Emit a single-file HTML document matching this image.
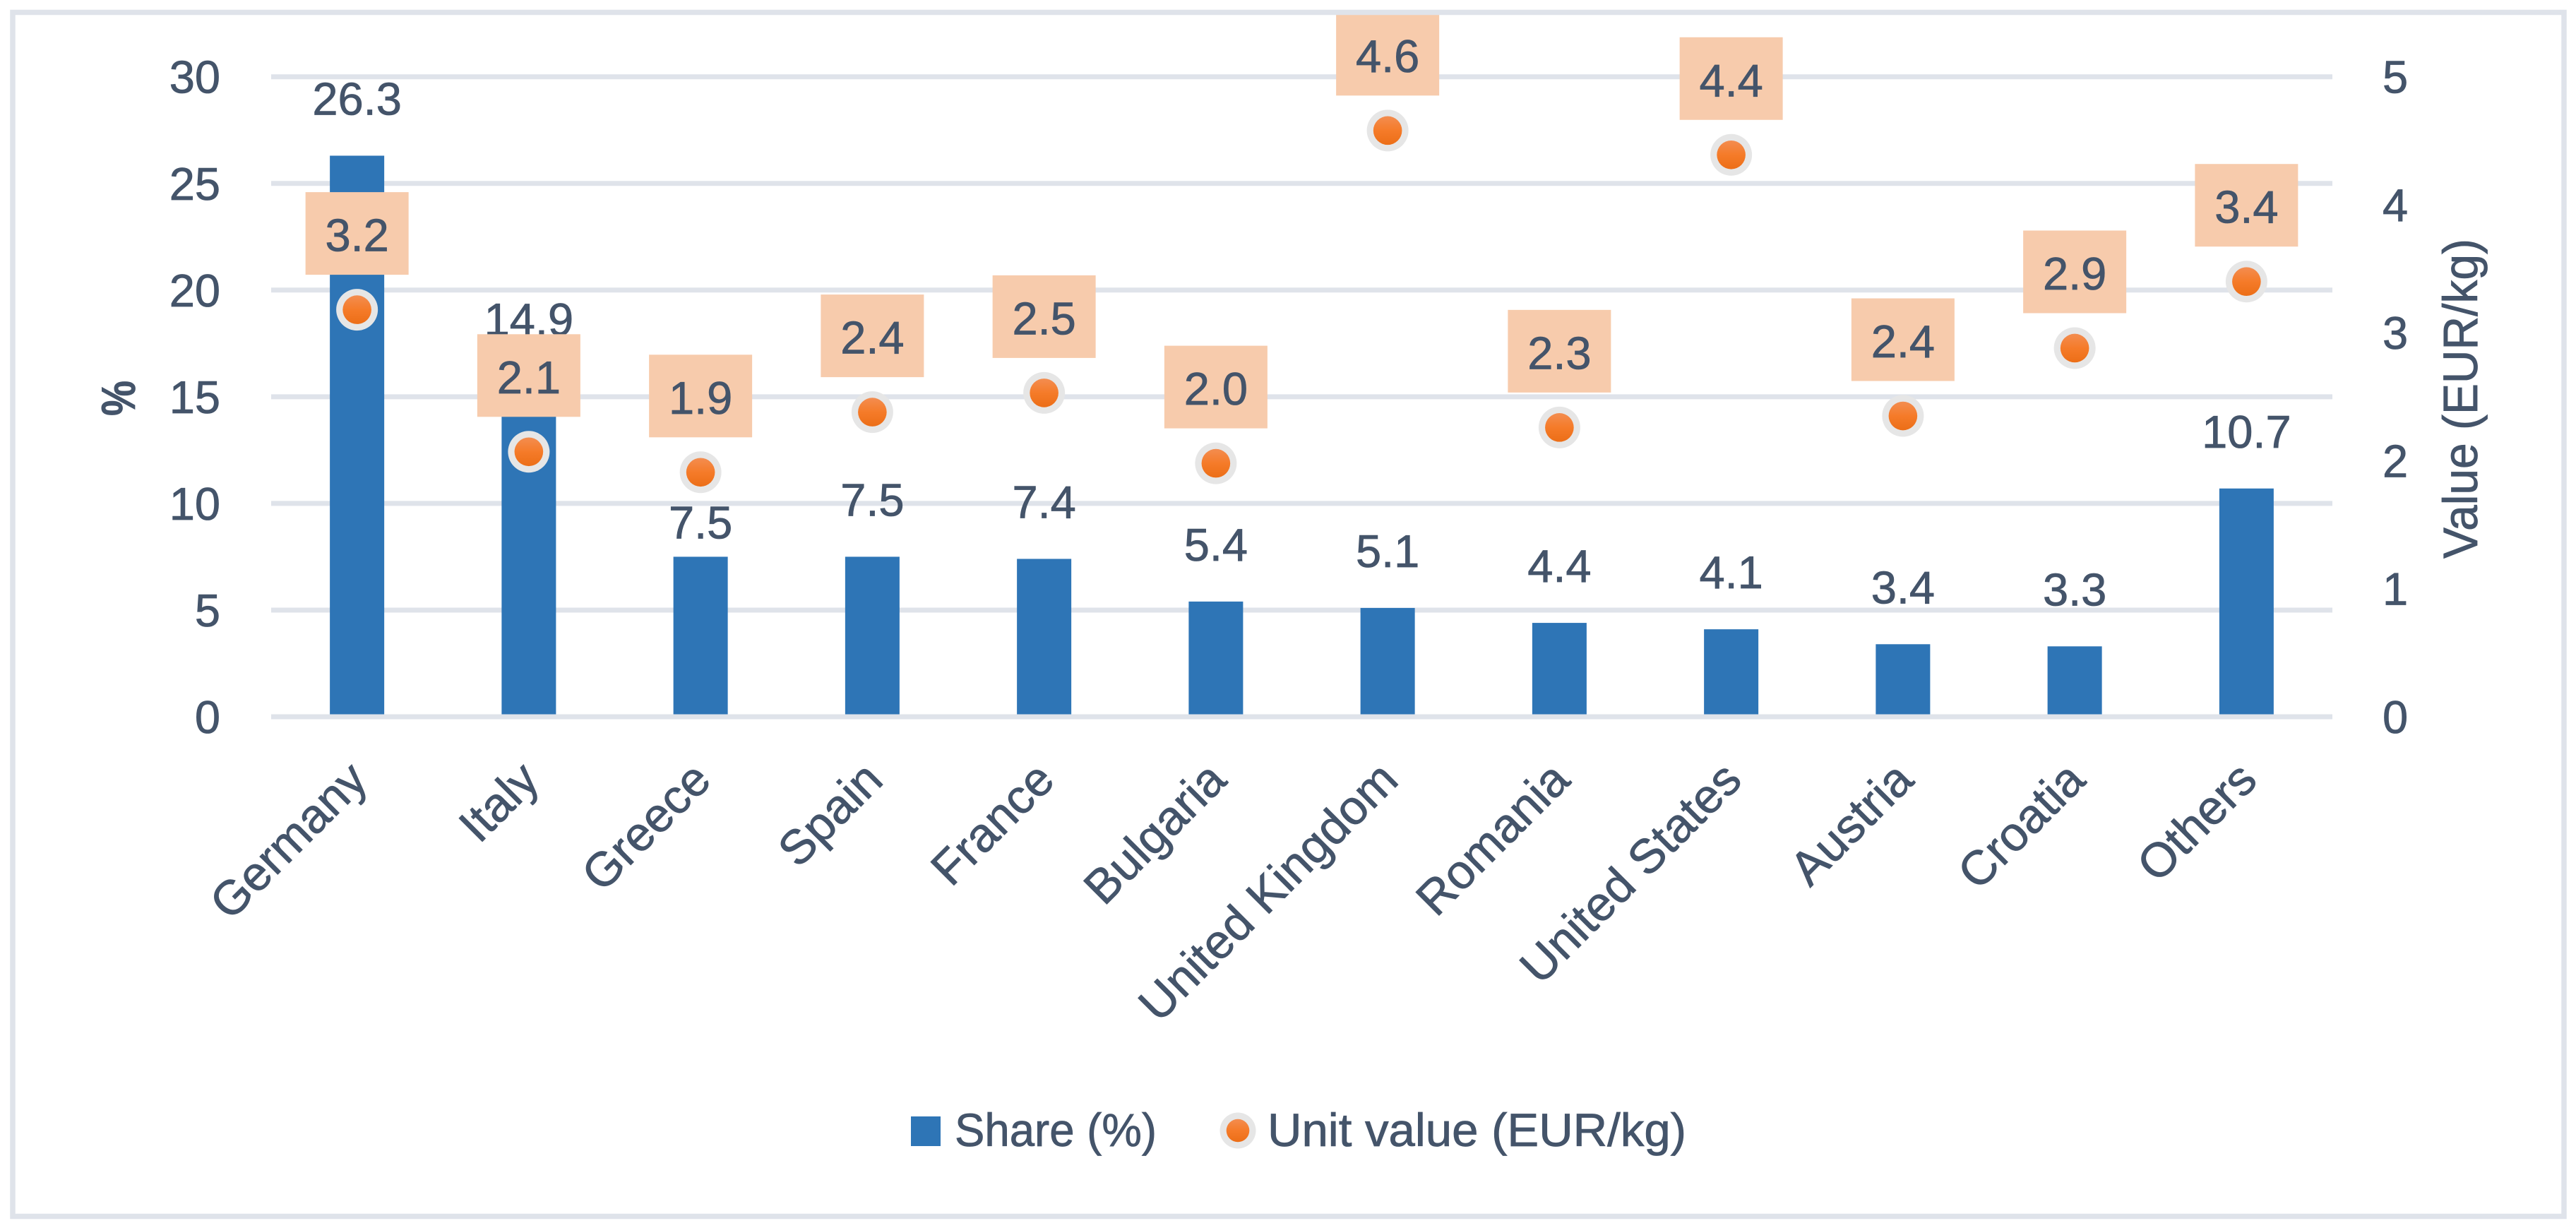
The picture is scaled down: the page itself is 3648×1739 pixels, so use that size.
<!DOCTYPE html>
<html lang="en">
<head>
<meta charset="utf-8">
<title>Share and unit value by country</title>
<style>
html,body{margin:0;padding:0;background:#fff;}
svg{display:block;}
text{font-family:"Liberation Sans",sans-serif;fill:#44546a;stroke:#44546a;stroke-width:0.8px;}
</style>
</head>
<body>
<svg id="chart" xmlns="http://www.w3.org/2000/svg" width="3648" height="1739" viewBox="0 0 3648 1739">
  <defs>
    <linearGradient id="marker-fill" x1="0" y1="0" x2="0" y2="1">
      <stop offset="0" stop-color="#f38d50"/>
      <stop offset="0.5" stop-color="#f57b29"/>
      <stop offset="1" stop-color="#ec6e17"/>
    </linearGradient>
  </defs>
  <rect x="0" y="0" width="3648" height="1739" fill="#ffffff"/>
  <g id="grid"></g>
  <g id="bars"></g>
  <g id="share-labels"></g>
  <g id="unit-boxes"></g>
  <g id="unit-markers"></g>
  <g id="axis-left"></g>
  <g id="axis-right"></g>
  <g id="categories-layer"></g>
  <text transform="translate(191 564) rotate(-90)" text-anchor="middle" font-size="68" textLength="50" lengthAdjust="spacingAndGlyphs" style="font-weight:bold">%</text>
  <text transform="translate(3508 564.5) rotate(-90)" text-anchor="middle" font-size="69" textLength="453" lengthAdjust="spacingAndGlyphs">Value (EUR/kg)</text>
  <g>
    <rect x="1290" y="1581" width="42" height="42" fill="#2e75b6"/>
    <text x="1352" y="1623" font-size="66" textLength="286" lengthAdjust="spacingAndGlyphs">Share (%)</text>
    <circle cx="1753" cy="1601" r="25.5" fill="#e6e6e6"/>
    <circle cx="1753" cy="1601" r="16.3" fill="url(#marker-fill)"/>
    <text x="1795" y="1623" font-size="66" textLength="593" lengthAdjust="spacingAndGlyphs">Unit value (EUR/kg)</text>
  </g>
  <rect x="18" y="17.5" width="3613" height="1705" fill="none" stroke="#dfe3ea" stroke-width="7.5"/>
</svg>
<script>
const categories = ["Germany","Italy","Greece","Spain","France","Bulgaria","United Kingdom","Romania","United States","Austria","Croatia","Others"];
const shareValues = [26.3,14.9,7.5,7.5,7.4,5.4,5.1,4.4,4.1,3.4,3.3,10.7];
const unitValues = [3.18,2.07,1.91,2.38,2.53,1.98,4.58,2.26,4.39,2.35,2.88,3.40];
const leftTicks = [0,5,10,15,20,25,30];
const rightTicks = [0,1,2,3,4,5];

const NS = "http://www.w3.org/2000/svg";
const plotLeft = 384, plotRight = 3303, plotBottom = 1015, plotTop = 108.7;
const leftMax = 30, rightMax = 5;
const FONT = 65, HALF_DIGIT = 23;
const BAR_W = 77, BOX_W = 146, BOX_H = 117;

function xBand(i){ return plotLeft + (plotRight - plotLeft) * (i + 0.5) / categories.length; }
function yLeft(v){ return plotBottom - (plotBottom - plotTop) * v / leftMax; }
function yRight(v){ return plotBottom - (plotBottom - plotTop) * v / rightMax; }
function make(tag, parentId, attrs, txt){
  const el = document.createElementNS(NS, tag);
  for (const k in attrs) el.setAttribute(k, attrs[k]);
  if (txt !== undefined) el.textContent = txt;
  document.getElementById(parentId).appendChild(el);
  return el;
}
function labelShift(name){
  if (name === "Italy") return -32;
  if (name === "Greece") return 32;
  return 0;
}

leftTicks.forEach(function(t){
  const line = make("line", t === 0 ? "axis-left" : "grid", {x1: plotLeft, x2: plotRight, y1: yLeft(t), y2: yLeft(t), stroke: "#dfe3ea", "stroke-width": 7});
  
  
  const lab = make("text", "axis-left", {x: 312, y: yLeft(t) + HALF_DIGIT, "text-anchor": "end", "font-size": FONT}, String(t));
  
  
});

rightTicks.forEach(function(t){
  const lab = make("text", "axis-right", {x: 3374, y: yRight(t) + HALF_DIGIT, "font-size": FONT}, String(t));
  
  
});

categories.forEach(function(name, i){
  const cx = xBand(i);
  const slug = name.toLowerCase().replace(/\s+/g, '-');

  const top = yLeft(shareValues[i]);
  const bar = make("rect", "bars", {x: cx - BAR_W / 2, y: top, width: BAR_W, height: plotBottom - top, fill: "#2e75b6"});
  
  

  const shareLab = make("text", "share-labels", {x: cx, y: top - 81 + labelShift(name) + HALF_DIGIT, "text-anchor": "middle", "font-size": FONT}, shareValues[i].toFixed(1));
  
  

  const my = yRight(unitValues[i]);
  const box = make("rect", "unit-boxes", {x: cx - BOX_W / 2, y: my - 108 - BOX_H / 2, width: BOX_W, height: BOX_H, fill: "#f7cbac"});
  
  

  const boxText = make("text", "unit-boxes", {x: cx, y: my - 106 + HALF_DIGIT, "text-anchor": "middle", "font-size": FONT}, unitValues[i].toFixed(1));
  
  

  const ring = make("circle", "unit-markers", {cx: cx, cy: my, r: 29.5, fill: "#e6e6e6"});
  
  

  const dot = make("circle", "unit-markers", {cx: cx, cy: my, r: 20.3, fill: "url(#marker-fill)"});
  
  

  const catLab = make("text", "categories-layer", {transform: "translate(" + (cx + 18) + " 1108) rotate(-45)", "text-anchor": "end", "font-size": 68}, name);
  
  
});
</script>
</body>
</html>
